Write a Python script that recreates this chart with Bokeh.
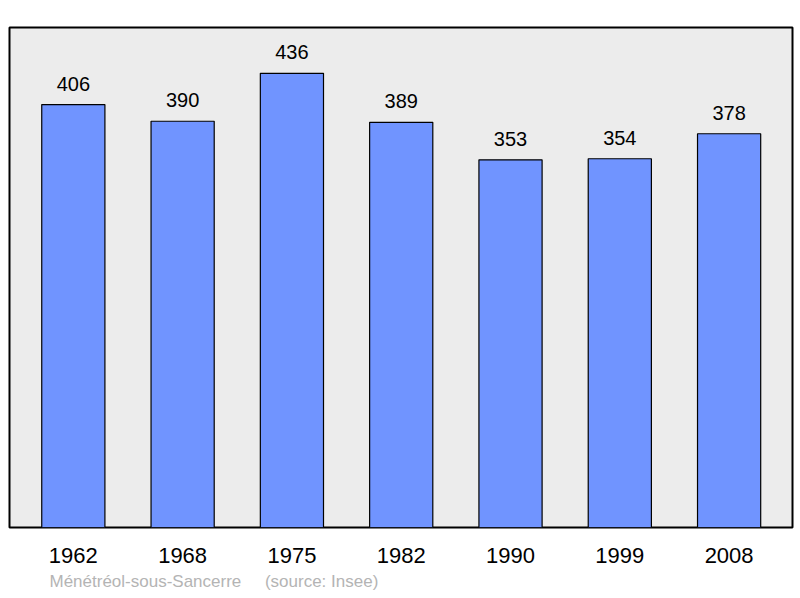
from bokeh.plotting import figure
from bokeh.models import FixedTicker, Range1d, ColumnDataSource, Title
from bokeh.core.properties import value
from bokeh.embed import file_html
from bokeh.resources import INLINE

years = ["1962", "1968", "1975", "1982", "1990", "1999", "2008"]
population = [406, 390, 436, 389, 353, 354, 378]
commune = "Ménétréol-sous-Sancerre"
source_note = "(source: Insee)"

xs = list(range(len(years)))
src = ColumnDataSource(dict(x=xs, y=population, label=[str(v) for v in population]))

p = figure(width=796, height=595, output_backend="svg", toolbar_location=None,
           x_range=Range1d(-0.584, 6.58), y_range=Range1d(0, 480),
           min_border_left=9, min_border_right=4, min_border_top=27, min_border_bottom=67)
p.background_fill_color = "#ececec"
p.border_fill_color = "white"
p.outline_line_color = "black"
p.outline_line_width = 2
p.xgrid.visible = False
p.ygrid.visible = False
p.yaxis.visible = False

p.vbar(x="x", top="y", width=0.578, bottom=0, source=src,
       fill_color="#7094ff", line_color="black", line_width=1.2)
p.text(x="x", y="y", text="label", source=src, text_align="center",
       text_baseline="alphabetic", y_offset=-21, text_font=value("Liberation Sans"),
       text_font_size="20px", text_color="black")

ax = p.xaxis[0]
ax.ticker = FixedTicker(ticks=xs)
ax.major_label_overrides = {i: y for i, y in zip(xs, years)}
ax.axis_line_color = None
ax.major_tick_line_color = None
ax.minor_tick_line_color = None
ax.major_tick_out = 0
ax.major_label_standoff = 20
ax.major_label_text_font = "Liberation Sans"
ax.major_label_text_font_size = "22px"
ax.major_label_text_color = "black"

p.add_layout(Title(text=commune + "\u00a0" * 5 + source_note, align="left", offset=40,
                   text_font="Liberation Sans", text_font_size="17px",
                   text_font_style="normal", text_color="#b4b4b4", standoff=9), "below")

open("out.html", "w").write(file_html(p, INLINE))
